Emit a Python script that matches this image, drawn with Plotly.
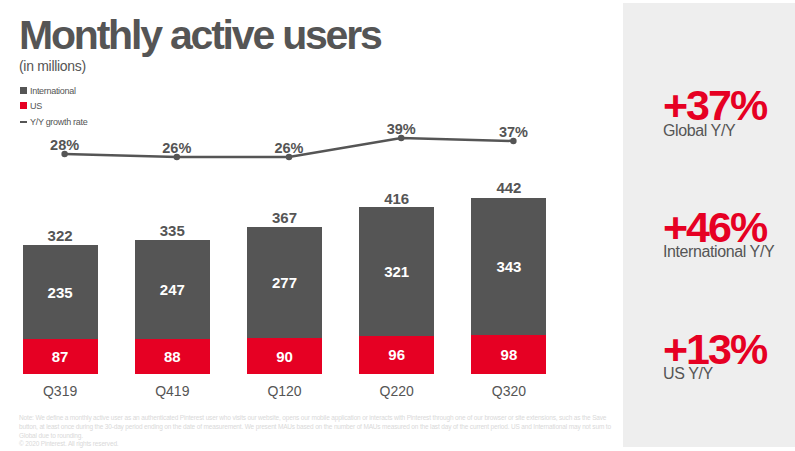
import plotly.graph_objects as go

# DATA
QUARTERS = ["Q319", "Q419", "Q120", "Q220", "Q320"]
US = [87, 88, 90, 96, 98]
INTL = [235, 247, 277, 321, 343]
GLOBAL = [322, 335, 367, 416, 442]
GROWTH = [28, 26, 26, 39, 37]
LEGEND_NAMES = ["International", "US", "Y/Y growth rate"]
CALLOUTS = ["+37%", "+46%", "+13%"]
CALLOUT_LABELS = ["Global Y/Y", "International Y/Y", "US Y/Y"]
NOTE = [
    "Note: We define a monthly active user as an authenticated Pinterest user who visits our website, opens our mobile application or interacts with Pinterest through one of our browser or site extensions, such as the Save",
    "button, at least once during the 30-day period ending on the date of measurement. We present MAUs based on the number of MAUs measured on the last day of the current period. US and International may not sum to",
    "Global due to rounding.",
    "© 2020 Pinterest. All rights reserved.",
]

# THEME
W, H = 795, 451
DARK = "#555555"
RED = "#E60023"
PANEL = "#EEEEEE"
FONT = "Liberation Sans"


def px_x(x):
    return x / W


def px_y(y):
    return 1 - y / H


fig = go.Figure()
fig.add_bar(x=QUARTERS, y=US, name=LEGEND_NAMES[1], marker=dict(color=RED, line_width=0),
            text=US, textposition="inside", insidetextanchor="middle",
            textfont=dict(color="white", size=15, family=FONT, weight="bold"), textangle=0)
fig.add_bar(x=QUARTERS, y=INTL, name=LEGEND_NAMES[0], marker=dict(color=DARK, line_width=0),
            text=INTL, textposition="inside", insidetextanchor="middle",
            textfont=dict(color="white", size=15, family=FONT, weight="bold"), textangle=0)
# totals sit on top of the stacks
fig.add_scatter(x=QUARTERS, y=GLOBAL, mode="text", text=GLOBAL, textposition="top center",
                textfont=dict(color=DARK, size=15, family=FONT, weight="bold"))
# the growth line is offset a few px right of the bars on the slide, hence x2
fig.add_scatter(x=QUARTERS, y=GROWTH, xaxis="x2", yaxis="y2", mode="lines+markers",
                name=LEGEND_NAMES[2],
                line=dict(color=DARK, width=2.5), marker=dict(color=DARK, size=6.5))
fig.add_scatter(x=QUARTERS, y=GROWTH, xaxis="x2", yaxis="y2", mode="text",
                text=[f"{g}%" for g in GROWTH], textposition="top center",
                textfont=dict(color=DARK, size=14.5, family=FONT, weight="bold"))

shapes = [dict(type="rect", xref="paper", yref="paper", x0=px_x(623), x1=1,
               y0=px_y(447), y1=px_y(3), fillcolor=PANEL, line_width=0, layer="below")]
# hand-made legend, the swatches are tiny and sit close to the text
shapes.append(dict(type="rect", xref="paper", yref="paper", x0=px_x(20), x1=px_x(27),
                   y0=px_y(94), y1=px_y(87), fillcolor=DARK, line_width=0))
shapes.append(dict(type="rect", xref="paper", yref="paper", x0=px_x(20), x1=px_x(27),
                   y0=px_y(109), y1=px_y(102), fillcolor=RED, line_width=0))
shapes.append(dict(type="rect", xref="paper", yref="paper", x0=px_x(20), x1=px_x(27),
                   y0=px_y(123), y1=px_y(121), fillcolor=DARK, line_width=0))


def note(text, x, y, size, color, weight="normal", spacing=0):
    spacings.append(spacing)
    return dict(text=text, xref="paper", yref="paper", x=px_x(x), y=px_y(y), xanchor="left",
                yanchor="middle", align="left", showarrow=False,
                font=dict(size=size, color=color, family=FONT, weight=weight))


spacings = []
annotations = [
    note("Monthly active users", 17, 35, 41, DARK, "bold", -2.2),
    note("(in millions)", 17, 66, 14, DARK, spacing=-0.3),
]
for name, y in zip(LEGEND_NAMES, [91, 106, 122]):
    annotations.append(note(name, 28, y, 9, DARK, spacing=-0.3))
for val, lab, y0, y1 in zip(CALLOUTS, CALLOUT_LABELS, [105, 227, 349], [130, 252, 373]):
    annotations.append(note(val, 661, y0, 43, RED, "bold", -2))
    annotations.append(note(lab, 661, y1, 16, DARK, spacing=-0.4))
for line, y in zip(NOTE, [418, 427, 436, 444]):
    annotations.append(note(line, 17, y, 6.5, "#D9D9D9", spacing=-0.16))

fig.update_layout(
    width=W, height=H,
    autosize=False,
    barmode="stack",
    bargap=0.33,
    showlegend=False,
    paper_bgcolor="white",
    plot_bgcolor="rgba(0,0,0,0)",
    margin=dict(t=0, b=0, l=0, r=0),
    font=dict(family=FONT, color=DARK),
    xaxis=dict(domain=[px_x(4), px_x(565)], showgrid=False, zeroline=False, showline=False,
               ticks="outside", ticklen=4, tickcolor="rgba(0,0,0,0)",
               tickfont=dict(size=14, color=DARK, family=FONT), anchor="y"),
    xaxis2=dict(domain=[px_x(8.5), px_x(569.5)], range=[-0.5, 4.5], visible=False, anchor="y2"),
    yaxis=dict(domain=[px_y(374), px_y(170)], range=[0, 510], visible=False),
    yaxis2=dict(domain=[px_y(170), px_y(100)], range=[17, 65.3], visible=False, anchor="x2"),
    shapes=shapes,
    annotations=annotations,
)

# plotly has no letter spacing option, the slide's type is set very tight
post = """
document.body.style.margin = '0';
var sp = %s;
document.querySelectorAll('.annotation-text').forEach(function (t, i) {
  t.style.letterSpacing = sp[i] + 'px';
});
""" % spacings

fig.write_html("out.html", post_script=post, config=dict(displayModeBar=False))
